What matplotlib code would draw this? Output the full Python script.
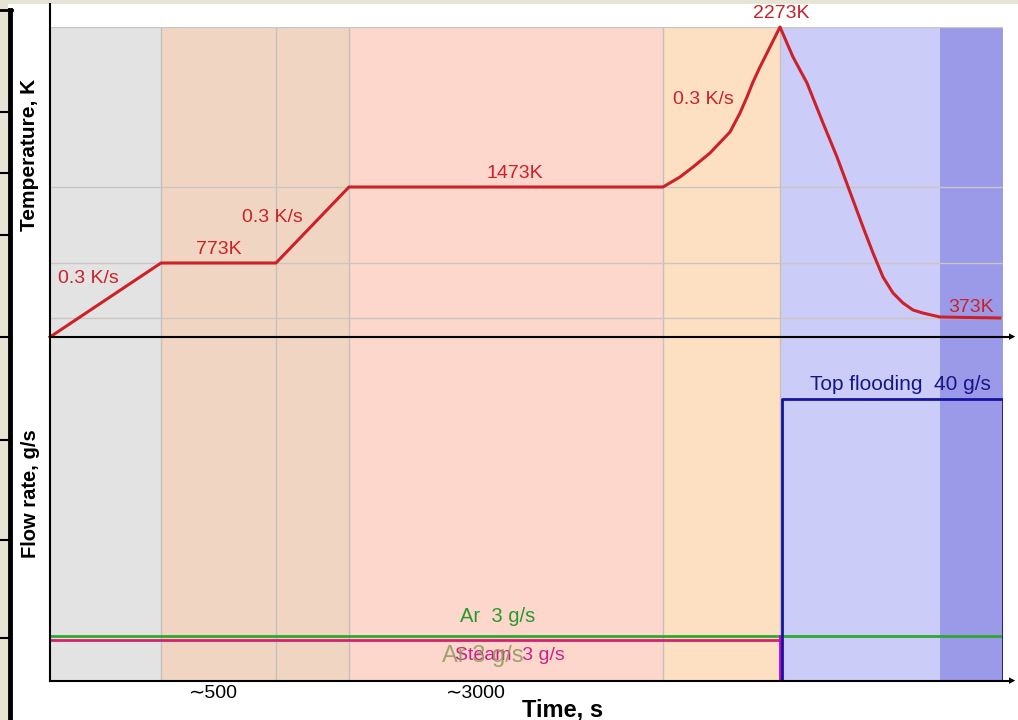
import matplotlib.pyplot as plt
import numpy as np
from matplotlib.patches import Rectangle
from matplotlib.lines import Line2D
import matplotlib.transforms as mtransforms

plt.rcParams['font.family'] = ['Liberation Sans', 'DejaVu Sans']

# schematic time axis (arbitrary units), stage boundaries
stage_edges = [0, 111, 226, 299, 613, 730, 890, 953]
stage_colors = ['#e3e3e3', '#f0d6c2', '#f0d6c2', '#fdd6cc', '#fde0c2', '#ccccf8', '#9a9ae8']

# temperature history
t_temp = [0, 111, 226, 299, 613, 630, 643, 660, 680, 690, 697, 703, 710, 720, 730,
          743, 757, 773, 787, 800, 813, 823, 833, 843, 853, 863, 873, 890, 950]
temp = [293, 773, 773, 1473, 1473, 1523, 1573, 1643, 1748, 1843, 1923, 1998, 2073, 2173, 2273,
        2123, 1993, 1793, 1623, 1427, 1105, 865, 671, 555, 482, 431, 409, 380, 373]

# flow rates
t_ar = [0, 953]
ar_flow = [3, 3]
t_steam = [0, 730, 730]
steam_flow = [3, 3, 0]
t_flood = [732, 732, 953, 953]
flood_flow = [0, 40, 40, 0]

# non-linear (schematic) vertical scales
temp_knots = [293, 373, 773, 1473, 2273]
temp_pos = [0, 19, 74, 150, 310]
flow_knots = [0, 3, 40, 49.7]
flow_pos = [0, 45, 282, 344]


def piecewise(knots, pos):
    fwd = lambda v: np.interp(v, knots, pos)
    inv = lambda p: np.interp(p, pos, knots)
    return fwd, inv


W, H = 1018, 720
fig = plt.figure(figsize=(W / 100, H / 100), dpi=100)


def fx(px):
    return px / W


def fy(py):
    return 1 - py / H


ax_t = fig.add_axes([fx(50), fy(337), fx(953), 310 / H])
ax_f = fig.add_axes([fx(50), fy(681), fx(953), 344 / H])

ax_t.set_yscale('function', functions=piecewise(temp_knots, temp_pos))
ax_t.set_ylim(temp_knots[0], temp_knots[-1])
ax_f.set_yscale('function', functions=piecewise(flow_knots, flow_pos))
ax_f.set_ylim(flow_knots[0], flow_knots[-1])

for ax in (ax_t, ax_f):
    ax.set_xlim(stage_edges[0], stage_edges[-1])
    for a, b, c in zip(stage_edges[:-1], stage_edges[1:], stage_colors):
        ax.axvspan(a, b, color=c, lw=0, zorder=0)
    for e in stage_edges[1:-2]:
        ax.axvline(e, color='#c4c0bc', lw=1, zorder=1)
    ax.set_xticks([])
    ax.set_yticks([])
    for s in ax.spines.values():
        s.set_visible(False)
    ax.patch.set_alpha(0)

for T in [373, 773, 1473, 2273]:
    ax_t.axhline(T, color='#cbc6c4', lw=1, zorder=1)

red = '#cc2128'
ax_t.plot(t_temp, temp, color=red, lw=2.2, zorder=3, clip_on=False,
          solid_joinstyle='round')

ax_f.plot(t_ar, ar_flow, color='#2ea82e', lw=2, zorder=3)
shift = mtransforms.ScaledTranslation(0, -4 / 100, fig.dpi_scale_trans)
ax_f.plot(t_steam[:2], steam_flow[:2], color='#d0246e', lw=2, zorder=3,
          transform=ax_f.transData + shift)
ax_f.plot(t_steam[1:], steam_flow[1:], color='#c800c8', lw=2, zorder=3)
ax_f.plot(t_flood, flood_flow, color='#1414a0', lw=2, zorder=4)

# labels on the temperature curve
tk = dict(color=red, fontsize=14, ha='center', va='center')
fig.text(fx(88), fy(279), '0.3 K/s', **tk)
fig.text(fx(219), fy(250), '773K', **tk)
fig.text(fx(272), fy(218), '0.3 K/s', **tk)
fig.text(fx(515), fy(173), '1473K', **tk)
fig.text(fx(703), fy(100), '0.3 K/s', **tk)
fig.text(fx(781), fy(14), '2273K', **tk)
fig.text(fx(971), fy(307), '373K', **tk)

fig.text(fx(900), fy(385), 'Top flooding  40 g/s', color='#16168a', fontsize=15,
         ha='center', va='center')
fig.text(fx(498), fy(617), 'Ar  3 g/s', color='#2a9a2a', fontsize=14.5, ha='center', va='center')
fig.text(fx(510), fy(656), 'Steam  3 g/s', color='#cc2288', fontsize=14, ha='center', va='center')
fig.text(fx(483), fy(656), 'Ar 3 g/s', color='#8c9a60', fontsize=17, alpha=0.85,
         ha='center', va='center')

fig.text(fx(213), fy(694), '\u223c500', fontsize=14, ha='center', va='center')
fig.text(fx(476), fy(693), '\u223c3000', fontsize=14, ha='center', va='center')
fig.text(fx(563), fy(710), 'Time, s', fontsize=17, fontweight='bold', ha='center', va='center')
fig.text(fx(30), fy(155), 'Temperature, K', fontsize=15, fontweight='bold', rotation=90,
         ha='center', va='center')
fig.text(fx(30), fy(494), 'Flow rate, g/s', fontsize=14.5, fontweight='bold', rotation=90,
         ha='center', va='center')

# axes with arrows
fig.add_artist(Line2D([fx(50), fx(50)], [fy(4), fy(681)], color='black', lw=1.5))
for py in (337, 681):
    fig.add_artist(Line2D([fx(50), fx(1008)], [fy(py), fy(py)], color='black', lw=1.5))
    fig.text(fx(1012), fy(py), '\u25b8', fontsize=9, ha='center', va='center')

# frame around the slide
beige = '#e6e4d4'
fig.add_artist(Rectangle((0, fy(4)), 1, 4 / H, color=beige, lw=0))
fig.add_artist(Rectangle((0, 0), fx(8), 1, color=beige, lw=0))
fig.add_artist(Line2D([fx(10), fx(10)], [0, fy(10)], color='black', lw=3.5))
fig.add_artist(Line2D([0, fx(12)], [fy(10), fy(10)], color='black', lw=2))
for py in [112, 173, 235, 337, 440, 540, 638]:
    fig.add_artist(Line2D([0, fx(9)], [fy(py), fy(py)], color='black', lw=1.5))

fig.savefig('out.png', dpi=100)
